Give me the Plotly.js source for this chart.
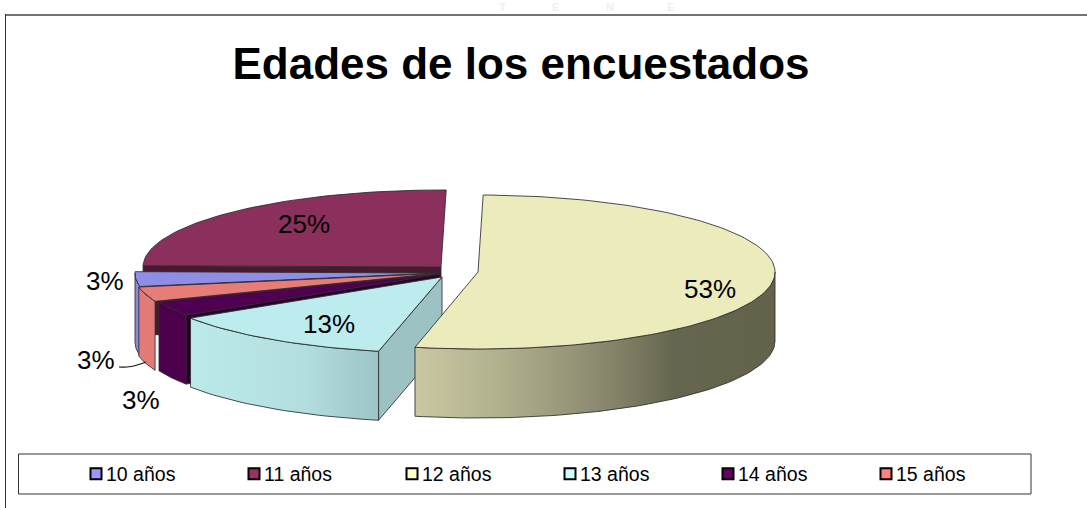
<!DOCTYPE html>
<html>
<head>
<meta charset="utf-8">
<script src="https://cdn.plot.ly/plotly-3.0.1.min.js"></script>
<style>html,body{margin:0;padding:0;background:#fff}#chart{width:1087px;height:508px}</style>
</head>
<body>
<div id="chart"></div>
<script>
// ---- data (respondent counts, n = 32) ----
const categories = ['10 años', '11 años', '12 años', '13 años', '14 años', '15 años'];
const counts = [1, 8, 17, 4, 1, 1];
const titleText = 'Edades de los encuestados';
const watermarkLetters = ['T', 'E', 'N', 'E'];

// ---- style ----
const legendColors = ['#9999FF', '#993366', '#FFFFCC', '#CCFFFF', '#660066', '#FF8080'];
const topColors = ['#8E8EE6', '#8B2F5C', '#EBEBBC', '#BDECEE', '#4F0050', '#E87C78'];
const wallScales = [
  [[0, '#8A8ADC'], [1, '#8A8ADC']],
  [[0, '#6F2549'], [1, '#6F2549']],
  [[0, '#C9C8A2'], [0.25, '#B0AF8C'], [0.55, '#85846A'], [0.72, '#66654F'], [1, '#63634B']],
  [[0, '#BCEAEB'], [0.6, '#B2DEDF'], [1, '#9EC4C6']],
  [[0, '#4C004B'], [1, '#4C004B']],
  [[0, '#E27A77'], [1, '#E27A77']]
];
const cutColors = ['#6A6AB0', '#4A1832', '#9A9A7A', '#9DC2C4', '#2C002E', '#B05C5A'];

// ---- geometry of the tilted pie ----
const rotation = 1;              // degrees clockwise of the first-slice position
const firstAngle = -90 - 360 * counts[0] / 32 + rotation;
const apexX = [437, 441, 478, 442, 440, 437];
const apexY = [273, 267, 272, 277, 274, 273.5];
const radX = [302, 298, 297, 299, 302, 303];
const radY = [76, 77, 77, 76, 76, 76];
const depth = 69;
const outline = 'rgba(45,45,45,0.85)';

const total = counts.reduce((a, b) => a + b, 0);
const starts = [];
counts.reduce((acc, v, i) => { starts[i] = acc; return acc + 360 * v / total; }, firstAngle);
const ends = counts.map((v, i) => starts[i] + 360 * v / total);
const rad = d => d * Math.PI / 180;
const rimX = (i, a) => apexX[i] + radX[i] * Math.sin(rad(a));
const rimY = (i, a) => apexY[i] - radY[i] * Math.cos(rad(a));
function arc(i, a, b) {
  const n = Math.max(2, Math.ceil(Math.abs(b - a) / 1.5));
  const xs = [], ys = [];
  for (let k = 0; k <= n; k++) {
    const t = a + (b - a) * k / n;
    xs.push(rimX(i, t)); ys.push(rimY(i, t));
  }
  return [xs, ys];
}
function face(xs, ys, fill, extra) {
  return Object.assign({
    x: xs, y: ys, type: 'scatter', mode: 'lines', fill: 'toself', fillcolor: fill,
    line: { color: outline, width: 1 }, hoverinfo: 'skip', showlegend: false
  }, extra || {});
}
function topFace(i) {
  const [xs, ys] = arc(i, starts[i], ends[i]);
  return face([apexX[i], ...xs, apexX[i]], [apexY[i], ...ys, apexY[i]], topColors[i]);
}
// outer wall: only the part on the viewer's side of the pie
function wall(i) {
  const norm = v => ((v % 360) + 360) % 360;
  const s0 = norm(starts[i]);
  const e0 = s0 + (ends[i] - starts[i]);
  const a = Math.max(s0, 90), b = Math.min(e0, 270);
  if (b <= a) return [];
  const [xs, ys] = arc(i, a, b);
  const X = [...xs, ...xs.slice().reverse(), xs[0]];
  const Y = [...ys, ...ys.slice().reverse().map(v => v + depth), ys[0]];
  return [face(X, Y, topColors[i], { fillgradient: { type: 'horizontal', colorscale: wallScales[i] } })];
}
// radial cut face running from the rim at one angle to the apex
function cut(i, a) {
  const x = rimX(i, a), y = rimY(i, a);
  return face([x, apexX[i], apexX[i], x, x], [y, apexY[i], apexY[i] + depth, y + depth, y], cutColors[i]);
}

const traces = [];
// painter's order, back to front
traces.push(cut(1, starts[1]), ...wall(1), topFace(1));
traces.push(...wall(0), topFace(0));
traces.push(...wall(5), topFace(5));
traces.push(cut(4, starts[4]), ...wall(4), topFace(4));
traces.push(cut(3, starts[3]), ...wall(3), topFace(3));
traces.push(...wall(2), topFace(2));

// leader line of the 15 años label
traces.push({
  x: [119, 131, 146], y: [367, 366.5, 362], type: 'scatter', mode: 'lines',
  line: { color: '#111', width: 1.2, shape: 'spline' }, hoverinfo: 'skip', showlegend: false
});

// legend entries
categories.forEach((c, i) => traces.push({
  x: [null], y: [null], type: 'scatter', mode: 'markers', name: c,
  marker: { symbol: 'square', size: 11, color: legendColors[i], line: { color: '#000', width: 2 } },
  hoverinfo: 'skip', showlegend: true
}));

// data labels
const labelX = [105, 304, 710, 329, 141, 96];
const labelY = [281, 224, 289, 324, 400, 360];
const annotations = counts.map((v, i) => ({
  x: labelX[i], y: labelY[i], xref: 'x', yref: 'y', showarrow: false,
  text: Math.round(v / total * 100) + '%',
  font: { family: 'Liberation Sans, Arial, sans-serif', size: 26, color: '#000' }
}));

// faint seal lettering showing above the chart frame, small enough to stay on the page
const watermarkX = [502, 555, 610, 670];
watermarkLetters.forEach((t, i) => annotations.push({
  x: watermarkX[i], y: 7, xref: 'x', yref: 'y', showarrow: false, text: '<b>' + t + '</b>',
  font: { family: 'Liberation Sans, Arial, sans-serif', size: 11, color: '#EFEFEF' }
}));

const layout = {
  width: 1087, height: 508,
  margin: { l: 0, r: 0, t: 0, b: 0 },
  paper_bgcolor: '#fff', plot_bgcolor: '#fff',
  title: {
    text: '<b>' + titleText + '</b>', x: 521 / 1087, xanchor: 'center', xref: 'paper',
    y: 1 - 64 / 508, yanchor: 'middle', yref: 'paper',
    font: { family: 'Liberation Sans, Arial, sans-serif', size: 44, color: '#000' }
  },
  xaxis: { range: [0, 1087], visible: false, fixedrange: true },
  yaxis: { range: [508, 0], visible: false, fixedrange: true },
  showlegend: true,
  legend: {
    orientation: 'h', x: 66 / 1087, xanchor: 'left', y: 1 - 474 / 508, yanchor: 'middle',
    bgcolor: 'rgba(0,0,0,0)', borderwidth: 0,
    entrywidth: 113, entrywidthmode: 'pixels', traceorder: 'normal',
    font: { family: 'Liberation Sans, Arial, sans-serif', size: 19.5, color: '#000' }
  },
  annotations,
  shapes: [
    { type: 'line', xref: 'x', yref: 'y', x0: 5, x1: 1087, y0: 15, y1: 15, line: { color: '#444', width: 1.5 }, layer: 'below' },
    { type: 'line', xref: 'x', yref: 'y', x0: 5.5, x1: 5.5, y0: 14, y1: 508, line: { color: '#333', width: 1 }, layer: 'below' },
    { type: 'rect', xref: 'x', yref: 'y', x0: 18.5, x1: 1031, y0: 454, y1: 494, line: { color: '#333', width: 1 }, layer: 'below' }
  ]
};

Plotly.newPlot('chart', traces, layout, { displayModeBar: false, responsive: false }).then(() => {
  // the reference sets each swatch right beside its text
  document.querySelectorAll('.legend .legendpoints').forEach(n => {
    n.setAttribute('transform', 'translate(10,0)');
  });
});
</script>
</body>
</html>
